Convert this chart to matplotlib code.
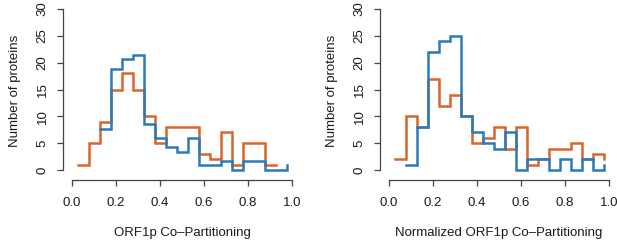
import matplotlib
matplotlib.use("Agg")
import matplotlib.pyplot as plt
import numpy as np

plt.rcParams['font.family'] = ['Liberation Sans', 'DejaVu Sans']

# bin midpoints (bin width 0.05)
mids = [0.025, 0.075, 0.125, 0.175, 0.225, 0.275, 0.325, 0.375, 0.425, 0.475,
        0.525, 0.575, 0.625, 0.675, 0.725, 0.775, 0.825, 0.875, 0.925, 0.975]

# Left panel: ORF1p Co-Partitioning
left_orange = [1, 5, 9, 15, 18, 15, 10, 5, 8, 8, 8, 3, 2, 7, 1, 5, 5, 1, 1, None]
left_blue = [None, None, 7.7, 18.9, 20.6, 21.5, 8.6, 6.0, 4.3, 3.4, 6.0, 0.9, 0.9, 1.7, 0, 1.7, 1.7, 0, 0, 0.9]

# Right panel: Normalized ORF1p Co-Partitioning
right_orange = [2, 10, 8, 17, 12, 14, 10, 5, 6, 8, 4, 8, 1, 2, 4, 4, 5, 2, 3, 2]
right_blue = [None, 1, 8, 22, 24, 25, 10, 7, 5, 4, 7, 0, 2, 2, 0, 2, 0, 2, 0, 1]

xticks = [0.0, 0.2, 0.4, 0.6, 0.8, 1.0]
xtick_labels = ["0.0", "0.2", "0.4", "0.6", "0.8", "1.0"]
yticks = [0, 5, 10, 15, 20, 25, 30]
xlabels = ["ORF1p Co\u2013Partitioning", "Normalized ORF1p Co\u2013Partitioning"]
ylabel = "Number of proteins"

ORANGE = "#D8652A"
BLUE = "#2B7BB9"
AX = "#444444"
TXT = "#1a1a1a"
FS = 9.5

W, H = 617, 240
fig = plt.figure(figsize=(W / 100, H / 100), dpi=100)


def series(vals):
    x = [m for m, v in zip(mids, vals) if v is not None]
    y = [v for v in vals if v is not None]
    return x, y


def panel(left_px, right_px, orange, blue, xlabel):
    bottom_px, top_px = 179.5, 3.0
    ax = fig.add_axes([left_px / W, 1 - bottom_px / H,
                       (right_px - left_px) / W, (bottom_px - top_px) / H])
    ax.set_xlim(-0.04, 1.04)
    # y: 0 at 170px, 30 at 9px
    ppu = (170 - 9) / 30
    ax.set_ylim(-(bottom_px - 170) / ppu, 30 + (9 - top_px) / ppu)
    xo, yo = series(orange)
    xb, yb = series(blue)
    ax.step(xo, yo, where='post', color=ORANGE, lw=1.8, solid_joinstyle='miter')
    ax.step(xb, yb, where='post', color=BLUE, lw=1.8, solid_joinstyle='miter')
    for s in ['top', 'right']:
        ax.spines[s].set_visible(False)
    ax.spines['left'].set_bounds(0, 30)
    ax.spines['bottom'].set_bounds(0, 1)
    for s in ['left', 'bottom']:
        ax.spines[s].set_color(AX)
        ax.spines[s].set_linewidth(0.9)
    ax.set_xticks(xticks)
    ax.set_xticklabels(xtick_labels)
    ax.set_yticks(yticks)
    ax.set_yticklabels([str(t) for t in yticks], rotation=90, va='center')
    ax.tick_params(axis='both', length=4.5, width=0.9, color=AX,
                   labelsize=FS, labelcolor=TXT)
    ax.tick_params(axis='x', pad=8)
    ax.tick_params(axis='y', pad=6)
    ax.set_xlabel(xlabel, fontsize=FS, color=TXT, labelpad=13)
    ax.set_ylabel(ylabel, fontsize=FS, color=TXT, labelpad=11)
    return ax


panel(63.2, 300.8, left_orange, left_blue, xlabels[0])
panel(380.2, 617.8, right_orange, right_blue, xlabels[1])

fig.savefig("out.png", dpi=100)
